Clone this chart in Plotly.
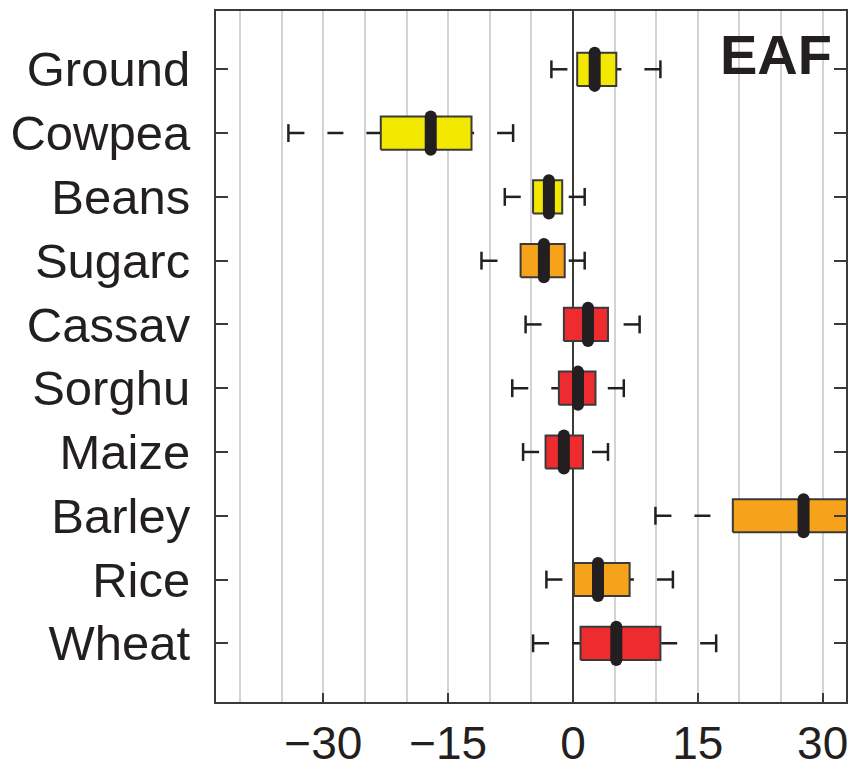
import plotly.graph_objects as go

# ---- data ----
crops = ["Ground", "Cowpea", "Beans", "Sugarc", "Cassav",
         "Sorghu", "Maize", "Barley", "Rice", "Wheat"]
whisk_lo = [-2.6, -34.2, -8.2, -11.0, -5.7, -7.3, -6.0, 9.9, -3.2, -4.8]
q1       = [0.5, -23.1, -4.8, -6.3, -1.1, -1.7, -3.3, 19.2, 0.1, 0.9]
median   = [2.6, -17.1, -2.9, -3.5, 1.8, 0.6, -1.1, 27.7, 3.0, 5.2]
q3       = [5.2, -12.2, -1.3, -1.0, 4.2, 2.7, 1.2, 36.0, 6.8, 10.5]
whisk_hi = [10.5, -7.2, 1.4, 1.4, 8.0, 6.1, 4.2, 45.0, 12.0, 17.2]
group    = ["yellow", "yellow", "yellow", "orange", "red",
            "red", "red", "orange", "orange", "red"]
x_ticks = [-30, -15, 0, 15, 30]
panel_label = "EAF"

# ---- styles ----
palette = {"yellow": "#F2E800", "orange": "#F7A21B", "red": "#EE2C30"}
dark = "#231F20"
edge = "#3A3A3A"
grid = "#D4D4D4"
FONT = "Liberation Sans, Arial, Helvetica, sans-serif"
BOX_H = 0.26
CAP_H = 0.14
MED_H = 0.26

n = len(crops)
pos = [n - 1 - i for i in range(n)]

fig = go.Figure()

# whiskers (dashed, drawn from the cap toward the box) and caps
for i in range(n):
    p = pos[i]
    for w, b in ((whisk_lo[i], q1[i]), (whisk_hi[i], q3[i])):
        fig.add_trace(go.Scatter(
            x=[w, b], y=[p, p], mode="lines",
            line=dict(color=dark, width=2.5, dash="16px,23px"),
            hoverinfo="skip", showlegend=False))
        fig.add_trace(go.Scatter(
            x=[w, w], y=[p - CAP_H, p + CAP_H], mode="lines",
            line=dict(color=dark, width=2.5),
            hoverinfo="skip", showlegend=False))

# boxes
for i in range(n):
    p = pos[i]
    fig.add_trace(go.Scatter(
        x=[q1[i], q3[i], q3[i], q1[i], q1[i]],
        y=[p - BOX_H, p - BOX_H, p + BOX_H, p + BOX_H, p - BOX_H],
        mode="lines", fill="toself", fillcolor=palette[group[i]],
        line=dict(color=edge, width=2),
        hoverinfo="skip", showlegend=False))

# medians (thick bar with rounded ends)
for i in range(n):
    p = pos[i]
    fig.add_trace(go.Scatter(
        x=[median[i], median[i]], y=[p - MED_H, p + MED_H],
        mode="lines+markers",
        line=dict(color=dark, width=12),
        marker=dict(color=dark, size=12, symbol="circle", line=dict(width=0)),
        hoverinfo="skip", showlegend=False))

fig.add_annotation(
    text="<b>" + panel_label + "</b>", xref="paper", yref="paper",
    x=0.981, y=0.937, xanchor="right", yanchor="middle", showarrow=False,
    font=dict(family=FONT, size=56, color=dark))

fig.update_layout(
    width=855, height=769,
    margin=dict(l=216, r=9, t=11, b=67),
    paper_bgcolor="white", plot_bgcolor="white",
    font=dict(family=FONT, color=dark),
    xaxis=dict(
        range=[-42.9, 32.8], tickvals=x_ticks, automargin=False,
        ticks="inside", ticklen=9, tickwidth=2, tickcolor=edge,
        showgrid=True, gridcolor=grid, gridwidth=1.5,
        minor=dict(dtick=5, tick0=0, showgrid=True, gridcolor=grid,
                   gridwidth=1.5, ticks=""),
        zeroline=True, zerolinecolor=edge, zerolinewidth=1.8,
        showline=True, linecolor=edge, linewidth=2, mirror=True,
        tickfont=dict(family=FONT, size=46, color=dark),
        ticklabelstandoff=0),
    yaxis=dict(
        range=[-0.92, 9.914], tickvals=pos, ticktext=crops, automargin=False,
        ticks="inside", ticklen=12, tickwidth=2, tickcolor=edge,
        showgrid=False, zeroline=False,
        showline=True, linecolor=edge, linewidth=2, mirror="ticks",
        tickfont=dict(family=FONT, size=49, color=dark),
        ticklabelstandoff=14),
)

fig.write_html("out.html")
